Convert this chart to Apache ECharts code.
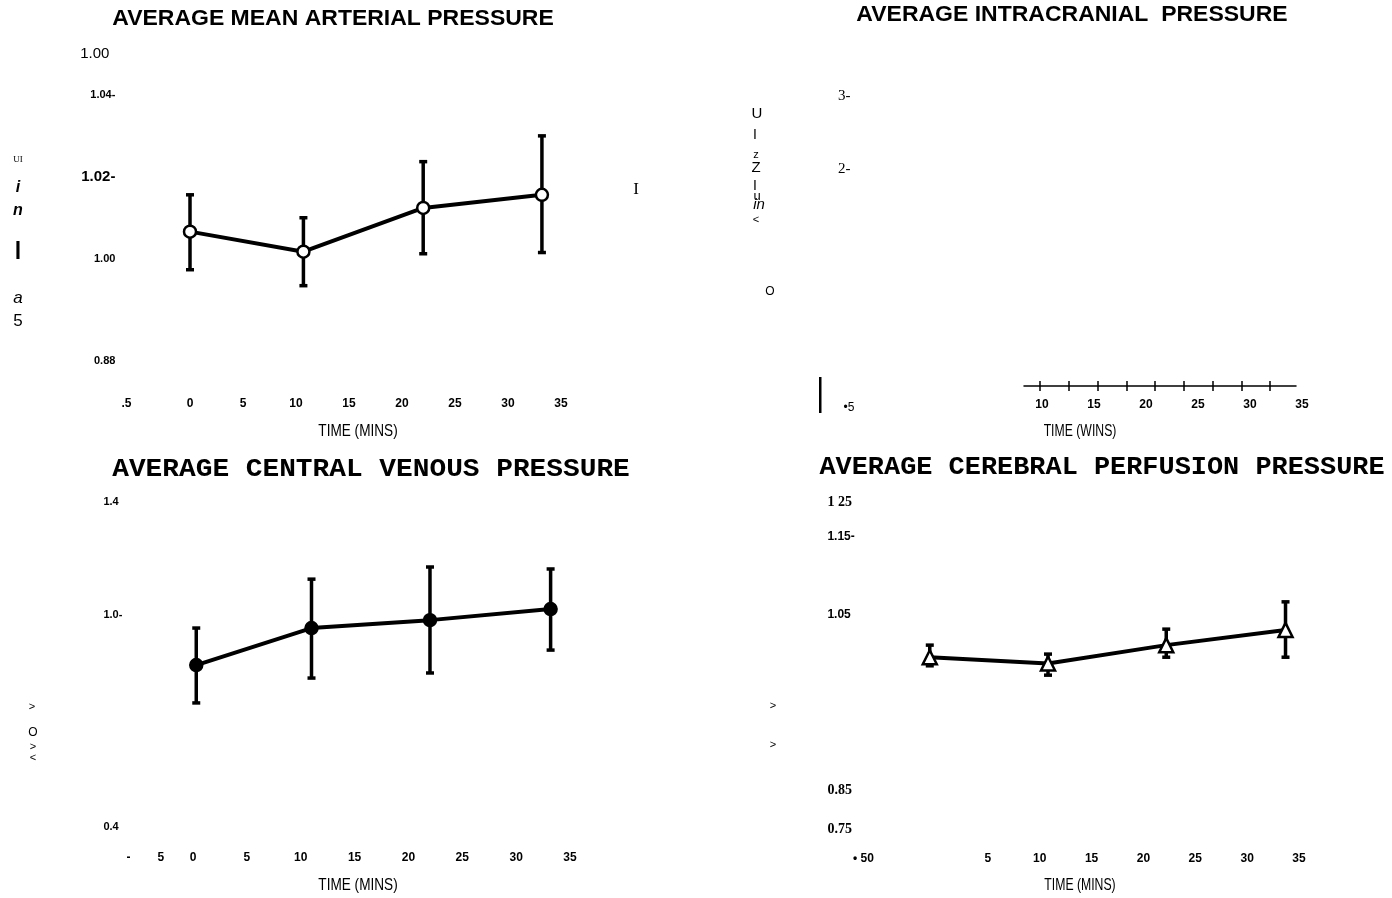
<!DOCTYPE html>
<html>
<head>
<meta charset="utf-8">
<script src="https://cdn.jsdelivr.net/npm/echarts@6.0.0/dist/echarts.min.js"></script>
<style>
html,body{margin:0;padding:0;background:#fff;}
#chart{width:1392px;height:898px;}
</style>
</head>
<body>
<div id="chart"></div>
<script>
// ---------- DATA ----------
// Mean arterial pressure (normalised)
const mapTime = [0, 10.7, 22, 33.2];
const mapMean = [1.0066, 1.0017, 1.0124, 1.0156];
const mapHigh = [1.0156, 1.0100, 1.0237, 1.0300];
const mapLow  = [0.9973, 0.9934, 1.0012, 1.0015];
const mapYTicks = [1.05, 1.04, 1.02, 1.00, 0.975];
const mapYText  = ['1.00', '1.04-', '1.02-', '1.00', '0.88'];
const mapXTicks = [-6, 0, 5, 10, 15, 20, 25, 30, 35];
const mapXText  = ['.5', '0', '5', '10', '15', '20', '25', '30', '35'];

// Central venous pressure (normalised)
const cvpTime = [0.3, 11, 22, 33.2];
const cvpMean = [0.823, 0.954, 0.982, 1.021];
const cvpHigh = [0.954, 1.127, 1.170, 1.163];
const cvpLow  = [0.689, 0.777, 0.795, 0.876];
const cvpYTicks = [1.4, 1.0, 0.25];
const cvpYText  = ['1.4', '1.0-', '0.4'];
const cvpXTicks = [-6, -3, 0, 5, 10, 15, 20, 25, 30, 35];
const cvpXText  = ['-', '5', '0', '5', '10', '15', '20', '25', '30', '35'];

// Cerebral perfusion pressure (normalised)
const cppTime = [-0.6, 10.8, 22.2, 33.7];
const cppMean = [0.996, 0.988, 1.0115, 1.031];
const cppHigh = [1.0115, 1.000, 1.032, 1.067];
const cppLow  = [0.985, 0.973, 0.996, 0.996];
const cppYTicks = [1.195, 1.15, 1.05, 0.825, 0.775];
const cppYText  = ['1 25', '1.15-', '1.05', '0.85', '0.75'];
const cppXTicks = [-7, 5, 10, 15, 20, 25, 30, 35];
const cppXText  = ['• 50', '5', '10', '15', '20', '25', '30', '35'];

// Intracranial pressure (no plotted data)
const icpYTicks = [3, 2];
const icpYText  = ['3-', '2-'];
const icpXTicks = [10, 15, 20, 25, 30, 35];
const icpXText  = ['10', '15', '20', '25', '30', '35'];

// ---------- helpers ----------
function labelFmt(ticks, texts, styles) {
  return function (v) {
    for (let i = 0; i < ticks.length; i++) {
      if (Math.abs(ticks[i] - v) < 1e-6) {
        return styles ? '{' + styles[i] + '|' + texts[i] + '}' : texts[i];
      }
    }
    return '';
  };
}
const richStyles = {
  n15: {fontFamily: 'Liberation Sans Narrow, Liberation Sans', fontSize: 15, color: '#000', padding: [0, 6, 0, 0]},
  b11: {fontFamily: 'Liberation Sans', fontWeight: 'bold', fontSize: 11, color: '#000'},
  b12: {fontFamily: 'Liberation Sans', fontWeight: 'bold', fontSize: 12, color: '#000'},
  b15: {fontFamily: 'Liberation Sans', fontWeight: 'bold', fontSize: 15, color: '#000'},
  nb12: {fontFamily: 'Liberation Sans Narrow, Liberation Sans', fontWeight: 'bold', fontSize: 12, color: '#000'},
  sb14: {fontFamily: 'Liberation Serif', fontWeight: 'bold', fontSize: 14, color: '#000'},
  s15: {fontFamily: 'Liberation Serif', fontSize: 15, color: '#000'}
};
const hidden = {show: false};
function xAx(gi, min, max, interval, ticks, texts, margin) {
  return {
    type: 'value', gridIndex: gi, min: min, max: max, interval: interval,
    axisLine: hidden, axisTick: hidden, splitLine: hidden,
    axisLabel: {formatter: labelFmt(ticks, texts), margin: margin,
      fontFamily: 'Liberation Sans', fontWeight: 'bold', fontSize: 12, color: '#000'}
  };
}
function yAx(gi, min, max, interval, ticks, texts, styles, margin, align) {
  return {
    type: 'value', gridIndex: gi, min: min, max: max, interval: interval,
    axisLine: hidden, axisTick: hidden, splitLine: hidden,
    axisLabel: {formatter: labelFmt(ticks, texts, styles), margin: margin,
      align: align || 'right', rich: richStyles}
  };
}
function errSeries(idx, times, low, high) {
  return {
    type: 'custom', xAxisIndex: idx, yAxisIndex: idx, z: 2,
    data: times.map((t, i) => [t, low[i], high[i]]),
    renderItem: function (params, api) {
      const top = api.coord([api.value(0), api.value(2)]);
      const bot = api.coord([api.value(0), api.value(1)]);
      const st = {stroke: '#000', lineWidth: 3.5};
      return {type: 'group', children: [
        {type: 'line', shape: {x1: top[0], y1: top[1], x2: bot[0], y2: bot[1]}, style: st},
        {type: 'line', shape: {x1: top[0] - 4, y1: top[1], x2: top[0] + 4, y2: top[1]}, style: st},
        {type: 'line', shape: {x1: bot[0] - 4, y1: bot[1], x2: bot[0] + 4, y2: bot[1]}, style: st}
      ]};
    }
  };
}
function meanSeries(idx, times, mean, symbol, size, filled) {
  return {
    type: 'line', xAxisIndex: idx, yAxisIndex: idx, z: 3,
    data: times.map((t, i) => [t, mean[i]]),
    symbol: symbol, symbolSize: size, showSymbol: true,
    lineStyle: {color: '#000', width: 4},
    itemStyle: {color: filled ? '#000' : '#fff', borderColor: '#000', borderWidth: 2.5},
    animation: false
  };
}
function txt(text, x, y, font, sx) {
  return {type: 'text', silent: true, x: x, y: y, scaleX: sx || 1,
    style: {text: text, x: 0, y: 0, font: font, fill: '#000',
      textAlign: 'center', textVerticalAlign: 'middle'}};
}

const SANS = '"Liberation Sans"';
const MONO = '"Liberation Mono"';
const SERIF = '"Liberation Serif"';

const option = {
  backgroundColor: '#fff',
  animation: false,
  grid: [
    {left: 126.4, top: 54, width: 434.6, height: 307},   // 0 MAP
    {left: 128.4, top: 502, width: 441.6, height: 325},  // 1 CVP
    {left: 863.4, top: 502, width: 435.6, height: 327.6},// 2 CPP
    {left: 870, top: 59.5, width: 400, height: 146},     // 3 ICP y
    {left: 1042, top: 380, width: 260, height: 6},       // 4 ICP x labels
    {left: 1024, top: 380, width: 272, height: 6},       // 5 ICP x line
    {left: 1040, top: 375, width: 230, height: 6}        // 6 ICP x ticks
  ],
  xAxis: [
    xAx(0, -6, 35, 1, mapXTicks, mapXText, 37),
    xAx(1, -6, 35, 1, cvpXTicks, cvpXText, 25),
    xAx(2, -7, 35, 1, cppXTicks, cppXText, 23),
    {type: 'value', gridIndex: 3, min: 0, max: 1, show: false},
    xAx(4, 10, 35, 5, icpXTicks, icpXText, 13),
    {type: 'value', gridIndex: 5, min: 0, max: 1, axisLine: {show: true, lineStyle: {color: '#000', width: 1.5}},
      axisTick: hidden, axisLabel: hidden, splitLine: hidden},
    {type: 'value', gridIndex: 6, min: 0, max: 8, interval: 1, axisLine: hidden,
      axisTick: {show: true, length: 10, lineStyle: {color: '#000', width: 1.5}},
      axisLabel: hidden, splitLine: hidden}
  ],
  yAxis: [
    yAx(0, 0.975, 1.05, 0.005, mapYTicks, mapYText, ['n15', 'b11', 'b15', 'b11', 'b11'], 11),
    yAx(1, 0.25, 1.4, 0.05, cvpYTicks, cvpYText, ['b11', 'b11', 'b11'], 25, 'left'),
    yAx(2, 0.775, 1.195, 0.005, cppYTicks, cppYText, ['sb14', 'b12', 'nb12', 'sb14', 'sb14'], 36, 'left'),
    yAx(3, 1.5, 3.5, 0.5, icpYTicks, icpYText, ['s15', 's15'], 32, 'left'),
    {type: 'value', gridIndex: 4, min: 0, max: 1, show: false},
    {type: 'value', gridIndex: 5, min: 0, max: 1, show: false},
    {type: 'value', gridIndex: 6, min: 0, max: 1, show: false}
  ],
  series: [
    errSeries(0, mapTime, mapLow, mapHigh),
    meanSeries(0, mapTime, mapMean, 'circle', 12, false),
    errSeries(1, cvpTime, cvpLow, cvpHigh),
    meanSeries(1, cvpTime, cvpMean, 'circle', 12, true),
    errSeries(2, cppTime, cppLow, cppHigh),
    meanSeries(2, cppTime, cppMean, 'triangle', 14, false),
    {type: 'line', xAxisIndex: 3, yAxisIndex: 3, data: []},
    {type: 'line', xAxisIndex: 4, yAxisIndex: 4, data: []},
    {type: 'line', xAxisIndex: 5, yAxisIndex: 5, data: []},
    {type: 'line', xAxisIndex: 6, yAxisIndex: 6, data: []}
  ],
  graphic: [
    // titles
    txt('AVERAGE MEAN ARTERIAL PRESSURE', 333, 19, 'bold 22px ' + SANS, 1.045),
    txt('AVERAGE INTRACRANIAL  PRESSURE', 1072, 15, 'bold 22px ' + SANS, 1.045),
    txt('AVERAGE CENTRAL VENOUS PRESSURE', 371, 469, 'bold 26px ' + MONO, 1.07),
    txt('AVERAGE CEREBRAL PERFUSION PRESSURE', 1102, 467, 'bold 26px ' + MONO, 1.035),
    // axis names
    txt('TIME (MINS)', 358, 431, '17px ' + SANS, 0.8),
    txt('TIME (WINS)', 1080, 431, '17px ' + SANS, 0.72),
    txt('TIME (MINS)', 358, 885, '17px ' + SANS, 0.8),
    txt('TIME (MINS)', 1080, 885, '17px ' + SANS, 0.72),
    // stray scan characters – top left
    txt('UI', 18, 160, '9px ' + SERIF),
    txt('i', 18, 188, 'italic bold 16px ' + SANS),
    txt('n', 18, 211, 'italic bold 16px ' + SANS),
    txt('I', 18, 252, '26px ' + SANS, 1.3),
    txt('a', 18, 298, 'italic 17px ' + SANS),
    txt('5', 18, 321, '17px ' + SANS),
    txt('I', 636, 190, '17px ' + SERIF),
    // top right
    txt('U', 757, 114, '15px ' + SANS),
    txt('I', 755, 135, '14px ' + SANS),
    txt('z', 756, 155, '11px ' + SANS),
    txt('Z', 756, 168, '15px ' + SANS),
    txt('I', 755, 186, '14px ' + SANS),
    txt('u', 757, 196, '13px ' + SANS),
    txt('in', 759, 205, 'italic 15px ' + SANS),
    txt('<', 756, 220, '11px ' + SANS),
    txt('O', 770, 292, '12px ' + SANS),
    {type: 'rect', silent: true, shape: {x: 819, y: 377, width: 2.5, height: 36}, style: {fill: '#000'}},
    txt('•5', 849, 408, '12px ' + SANS),
    // bottom left
    txt('>', 32, 707, '11px ' + SANS),
    txt('O', 33, 733, '12px ' + SANS),
    txt('>', 33, 747, '11px ' + SANS),
    txt('<', 33, 758, '11px ' + SANS),
    // bottom right
    txt('>', 773, 706, '11px ' + SANS),
    txt('>', 773, 745, '11px ' + SANS)
  ]
};

const chart = echarts.init(document.getElementById('chart'), null, {renderer: 'canvas'});
chart.setOption(option);
</script>
</body>
</html>
